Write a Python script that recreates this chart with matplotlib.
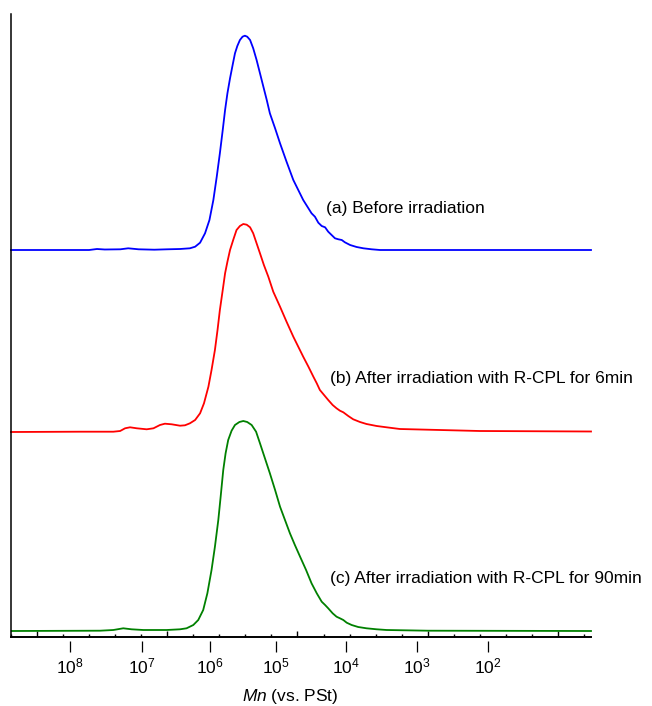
import numpy as np
import matplotlib
matplotlib.use("Agg")
import matplotlib.pyplot as plt
from matplotlib.ticker import MultipleLocator

plt.rcParams['font.family'] = ['Liberation Sans', 'DejaVu Sans']
plt.rcParams['mathtext.fontset'] = 'custom'
plt.rcParams['mathtext.rm'] = 'Liberation Sans'
plt.rcParams['mathtext.it'] = 'Liberation Sans:italic'

## data (x = elution time, y = detector signal above baseline) ##
# (a) before irradiation
t_a = [9.00, 12.00, 12.30, 12.60, 13.20, 13.50, 13.90, 14.50, 15.00, 15.49,
       15.87, 16.07, 16.26, 16.45, 16.62, 16.77, 16.90, 17.02, 17.13, 17.22,
       17.31, 17.41, 17.51, 17.60, 17.69, 17.79, 17.89, 17.98, 18.07, 18.18,
       18.30, 18.43, 18.56, 18.69, 18.82, 18.94, 19.14, 19.33, 19.58, 19.84,
       20.03, 20.22, 20.42, 20.54, 20.67, 20.80, 20.93, 21.06, 21.18, 21.31,
       21.44, 21.57, 21.70, 21.82, 22.02, 22.27, 22.53, 22.85, 23.17, 31.27]
y_a = [0, 0, 1, 0.5, 0.7, 1.7, 0.7, 0.3, 0.7, 1.0,
       1.7, 3.3, 7.3, 16.7, 30, 50, 73.3, 96.7, 120, 140,
       156.7, 171.7, 185, 196.7, 204, 210, 213.3, 214.3, 213.3, 210,
       201.7, 190, 176.7, 163.3, 150, 136.7, 121.7, 106.7, 88.3, 70,
       60, 50, 41.7, 36.7, 33.3, 27.3, 24, 22.7, 18.3, 15,
       11.7, 10.7, 10, 7.7, 5, 3, 1.7, 0.7, 0, 0]

# (b) R-CPL 6 min
t_b = [9.00, 11.65, 12.93, 13.19, 13.38, 13.57, 13.83, 14.21, 14.47, 14.72,
       14.91, 15.17, 15.49, 15.68, 15.87, 16.07, 16.26, 16.41, 16.58, 16.70,
       16.83, 16.93, 17.02, 17.13, 17.22, 17.31, 17.41, 17.54, 17.66, 17.79,
       17.92, 18.05, 18.18, 18.30, 18.43, 18.56, 18.71, 18.88, 19.07, 19.33,
       19.58, 19.84, 20.03, 20.22, 20.42, 20.61, 20.74, 20.86, 21.02, 21.18,
       21.35, 21.50, 21.63, 21.76, 21.95, 22.14, 22.40, 22.65, 23.04, 23.42,
       23.93, 27.00, 31.27]
y_b = [0, 0.3, 0.3, 1, 3.7, 4.7, 3.7, 2.7, 3.7, 7,
       8.3, 7.7, 6.3, 6.7, 8.7, 12, 18.7, 28.7, 45.3, 62,
       82, 102, 122, 142, 158.7, 170.3, 182, 192.7, 202, 206,
       208, 207.3, 204.7, 198.7, 188.7, 178.7, 167, 155.3, 140.3, 125.3,
       110.3, 95.3, 85.3, 75.3, 65.3, 55.3, 48.7, 42, 37, 32,
       27, 23.7, 21.3, 19.7, 16, 12.7, 10, 8, 6, 4.7,
       3, 1, 0.5]

# (c) R-CPL 90 min
t_c = [9.03, 12.42, 12.93, 13.31, 13.63, 14.08, 14.98, 15.49, 15.74, 16.00,
       16.19, 16.38, 16.54, 16.70, 16.83, 16.96, 17.05, 17.15, 17.24, 17.34,
       17.47, 17.60, 17.77, 17.92, 18.07, 18.24, 18.41, 18.56, 18.75, 18.94,
       19.14, 19.33, 19.52, 19.71, 19.90, 20.10, 20.33, 20.54, 20.74, 20.93,
       21.06, 21.18, 21.35, 21.50, 21.63, 21.76, 21.89, 22.08, 22.33, 22.65,
       23.04, 23.42, 25.00, 31.27]
y_c = [0, 0.3, 1, 2.7, 1.7, 1, 1, 1.7, 2.7, 6,
       11, 21, 37.7, 61, 84.3, 111, 134.3, 161, 177.7, 191,
       200.3, 206, 209, 210, 209, 206, 199.3, 187.7, 172.7, 157.7,
       141, 124.3, 111, 97.7, 86, 74.3, 61, 47.7, 37.7, 29.3,
       26, 22.7, 17.7, 14.3, 12.7, 11, 8.3, 6, 4, 2.7,
       1.7, 1, 0.3, 0]

offsets = [387, 205, 6]  # vertical stacking of the traces
colors = ['#0000ff', '#ff0000', '#008000']
labels = ['(a) Before irradiation',
          '(b) After irradiation with R-CPL for 6min',
          '(c) After irradiation with R-CPL for 90min']
label_pos = [(21.09, 429), (21.25, 259), (21.25, 59)]

# calibration: elution time where each Mn decade sits
cal_t = [11.27, 14.03, 16.64, 19.17, 21.86, 24.59, 27.31]
cal_lab = ['$10^{8}$', '$10^{7}$', '$10^{6}$', '$10^{5}$', '$10^{4}$', '$10^{3}$', '$10^{2}$']

fig = plt.figure(figsize=(6.52, 7.06), dpi=100)
ax = fig.add_axes([11/652, 69/706, 580/652, 623/706])

for t, y, off, c in zip([t_a, t_b, t_c], [y_a, y_b, y_c], offsets, colors):
    ax.plot(t, np.array(y) + off, color=c, lw=1.3, clip_on=False,
            solid_joinstyle='round')

for (tx, ty), lab in zip(label_pos, labels):
    ax.text(tx, ty, lab, fontsize=12.5, va='center', ha='left')

ax.set_xlim(9.0, 31.27)
ax.set_ylim(0, 623)
ax.spines['top'].set_visible(False)
ax.spines['right'].set_visible(False)
ax.spines['left'].set_linewidth(1.1)
ax.spines['bottom'].set_linewidth(1.4)
ax.set_yticks([])
ax.xaxis.set_major_locator(MultipleLocator(5))
ax.xaxis.set_minor_locator(MultipleLocator(1))
ax.tick_params(axis='x', which='major', direction='in', length=4.5, width=1.0, labelbottom=False)
ax.tick_params(axis='x', which='minor', direction='in', length=2.2, width=1.0)

# Mn labels hang under the axis with a small gap
sec = ax.secondary_xaxis(-4/623)
sec.spines['bottom'].set_visible(False)
sec.set_xticks(cal_t)
sec.set_xticklabels(cal_lab)
sec.xaxis.set_minor_locator(plt.NullLocator())
sec.tick_params(axis='x', direction='out', length=8, width=0.9, pad=3, labelsize=12.5)

fig.text(290/652, 1 - 696/706, '$Mn$ (vs. PSt)', fontsize=12.5, ha='center', va='center')

fig.savefig('out.png', dpi=100)
